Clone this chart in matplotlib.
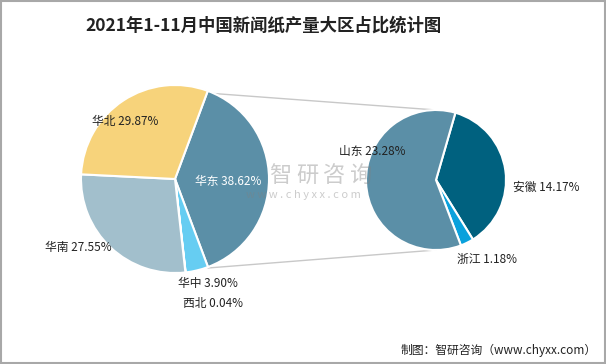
import matplotlib
matplotlib.use("Agg")
import matplotlib.pyplot as plt
from matplotlib.patches import Rectangle

plt.rcParams['font.family'] = ['Noto Sans CJK SC', 'DejaVu Sans']

# data
title = "2021年1-11月中国新闻纸产量大区占比统计图"
left_names = ["华东", "华中", "西北", "华南", "华北"]
left_values = [38.62, 3.90, 0.04, 27.55, 29.87]
right_names = ["安徽", "浙江", "山东"]
right_values = [14.17, 1.18, 23.28]
source = "制图：智研咨询（www.chyxx.com）"

left_colors = ["#5b8fa7", "#66cdf2", "#9bb3c8", "#a2bfcc", "#f7d37b"]
right_colors = ["#00617f", "#0aa1dc", "#5b8fa7"]

W, H = 606, 364
fig = plt.figure(figsize=(W / 100, H / 100), dpi=100)
ax = fig.add_axes([0, 0, 1, 1])

def Y(y):
    return H - y

wp = dict(edgecolor="white", linewidth=1.5)
lc = (175, Y(179))
ax.pie(left_values, colors=left_colors, startangle=69.6, counterclock=False,
       center=lc, radius=94, wedgeprops=wp)

rc = (436, Y(180))
ax.pie(right_values, colors=right_colors, startangle=73.9, counterclock=False,
       center=rc, radius=70, wedgeprops=wp)

# connector lines
ax.plot([207, 436], [Y(93), Y(110)], color="#c8c8c8", lw=1, zorder=0)
ax.plot([208, 436], [Y(268), Y(250)], color="#c8c8c8", lw=1, zorder=0)

# labels (position in pixels)
left_pos = [(195, 181, "white"), (178, 283, "#222222"), (183, 304, "#222222"),
            (45, 248, "#222222"), (92, 122, "#222222")]
for name, v, (x, y, c) in zip(left_names, left_values, left_pos):
    ax.text(x, Y(y), f"{name} {v:.2f}%", color=c, fontsize=8.5,
            va="center", ha="left", zorder=5)

right_pos = [(513, 187), (457, 259), (339, 152)]
for name, v, (x, y) in zip(right_names, right_values, right_pos):
    ax.text(x, Y(y), f"{name} {v:.2f}%", color="#222222", fontsize=8.5,
            va="center", ha="left", zorder=5)

# watermark
for i, ch in enumerate("智研咨询"):
    ax.text(280 + i * 27, Y(175), ch, fontsize=16, color="#808080", alpha=0.4,
            ha="center", va="center", zorder=6)
ax.text(303, Y(195), "w w w . c h y x x . c o m", fontsize=8, color="#808080",
        alpha=0.4, ha="center", va="center", zorder=6)

ax.text(264, Y(26), title, fontsize=12.5, fontweight="bold", color="#222222",
        ha="center", va="center")
ax.text(597, Y(350), source, fontsize=8.5, color="#222222", ha="right", va="center")

ax.add_patch(Rectangle((1, 1), W - 2, H - 2, fill=False, edgecolor="#a8a8a8", lw=1.5))

ax.set_xlim(0, W)
ax.set_ylim(0, H)
ax.set_aspect("equal")
ax.set_axis_off()

fig.savefig("out.png", dpi=100)
